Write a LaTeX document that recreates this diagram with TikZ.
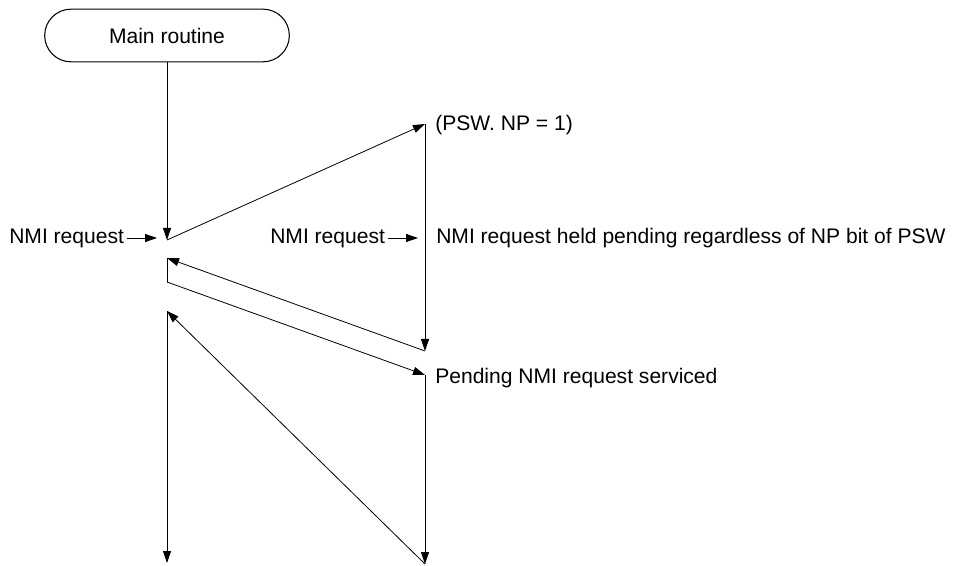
\documentclass[tikz,border=0pt]{standalone}
\usepackage{fontspec}
\setmainfont{Liberation Sans}
\usetikzlibrary{arrows.meta,positioning,shapes.misc}
\tikzset{
  term/.style={draw, rounded rectangle, line width=0.8pt,
    minimum width=183.5pt, minimum height=39.5pt, inner sep=0pt,
    font=\fontsize{15.8}{18}\selectfont},
  lbl/.style={inner sep=0pt, font=\fontsize{15.8}{18}\selectfont},
  flow/.style={-{Triangle[length=9pt,width=6pt]}, line width=0.6pt},
  link/.style={line width=0.6pt}
}
\begin{document}
\begin{tikzpicture}[x=0.75pt, y=-0.75pt]
  \useasboundingbox (0,0) rectangle (956,566);
  \node[term] (main) at (167,35.5) {Main routine};

  % interrupt points on the main routine
  \coordinate (a1) at (167,240);
  \coordinate (a2) at (167,258);
  \coordinate (a3) at (167,282);
  \coordinate (a4) at (167,311);
  \coordinate (a5) at (167,563);
  % servicing side
  \coordinate (p1) at (425,124);
  \coordinate (p2) at (425,351);
  \coordinate (p3) at (425,375);
  \coordinate (p4) at (425,564);

  \node[lbl, anchor=west] (psw) at (435,125) {(PSW. NP = 1)};
  \node[lbl, anchor=west] (held) at (436,238)
    {NMI request held pending regardless of NP bit of PSW};
  \node[lbl, anchor=west] (serv) at (435,378) {Pending NMI request serviced};
  \node[lbl, anchor=west] (req1) at (9,238) {NMI request};
  \node[lbl, anchor=west] (req2) at (270,238) {NMI request};
  \coordinate (t1) at (157,238);
  \coordinate (t2) at (418,238);

  \draw[flow] (main.south) -- (a1);
  \draw[flow] (a1) -- (p1);
  \draw[flow] (p1) -- (p2);
  \draw[flow] (p2) -- (a2);
  \draw[link] (a2) -- (a3);
  \draw[flow] (a3) -- (p3);
  \draw[flow] (p3) -- (p4);
  \draw[flow] (p4) -- (a4);
  \draw[flow] (a4) -- (a5);
  \draw[flow] ([xshift=2pt]req1.east) -- (t1);
  \draw[flow] ([xshift=2pt]req2.east) -- (t2);
\end{tikzpicture}
\end{document}
